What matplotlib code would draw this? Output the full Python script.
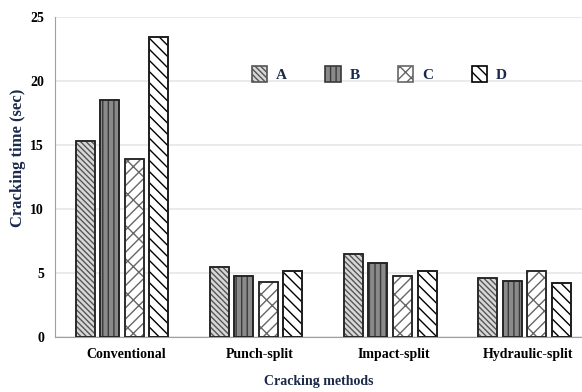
import matplotlib.pyplot as plt
import numpy as np

methods = ['Conventional', 'Punch-split', 'Impact-split', 'Hydraulic-split']
series = ['A', 'B', 'C', 'D']
vals_a = [15.3, 5.5, 6.5, 4.6]
vals_b = [18.5, 4.8, 5.8, 4.4]
vals_c = [13.9, 4.3, 4.8, 5.2]
vals_d = [23.4, 5.2, 5.2, 4.2]
yticks = [0, 5, 10, 15, 20, 25]

plt.rcParams['font.family'] = ['Liberation Serif', 'DejaVu Serif']
plt.rcParams['font.weight'] = 'bold'
plt.rcParams['hatch.linewidth'] = 1.0

fig = plt.figure(figsize=(5.82, 3.92), dpi=100)
ax = fig.add_axes([0.0945, 0.14, 0.9055, 0.817])

x = np.arange(len(methods))
step = 0.183
width = 0.142
styles = [
    dict(facecolor='#d8d8d8', hatch='\\\\\\\\\\\\', edgecolor='#555555'),
    dict(facecolor='#8a8a8a', hatch='|||', edgecolor='#3a3a3a'),
    dict(facecolor='white', hatch='//x', edgecolor='#666666'),
    dict(facecolor='white', hatch='\\\\\\', edgecolor='black'),
]
for i, (name, vals) in enumerate(zip(series, [vals_a, vals_b, vals_c, vals_d])):
    ax.bar(x + (i - 1.5) * step, vals, width, label=name,
           linewidth=1.2, zorder=3, **styles[i])
    # dark outline on top
    ax.bar(x + (i - 1.5) * step, vals, width, facecolor='none',
           edgecolor='#222222', linewidth=1.2, zorder=4)

ax.set_xlim(-0.5, 3.43)
ax.set_ylim(0, 25)
ax.set_yticks(yticks)
ax.set_xticks(x + 0.03)
ax.set_xticklabels(methods, fontsize=10)
ax.tick_params(axis='both', length=0, labelsize=10)
ax.tick_params(axis='x', pad=8)
ax.tick_params(axis='y', pad=8)
ax.yaxis.grid(True, color='#e6e6e6', linewidth=1.2, zorder=0)
ax.set_axisbelow(True)
for s in ['top', 'right']:
    ax.spines[s].set_visible(False)
ax.spines['left'].set_color('#a0a0a0')
ax.spines['bottom'].set_color('#a0a0a0')

ax.set_ylabel('Cracking time (sec)', fontsize=12, fontweight='bold',
              color='#1b2a4a')
ax.yaxis.set_label_coords(-0.055, 0.56)
ax.set_xlabel('Cracking methods', fontsize=10, fontweight='bold',
              color='#1b2a4a', labelpad=10)

ax.legend(loc='upper left', bbox_to_anchor=(0.347, 0.89), ncol=4, frameon=False,
          handlelength=1.0, handleheight=1.3, columnspacing=2.5, handletextpad=0.6,
          labelcolor='#1b2a4a', prop={'size': 11, 'weight': 'bold'})

fig.savefig('out.png', dpi=100)
